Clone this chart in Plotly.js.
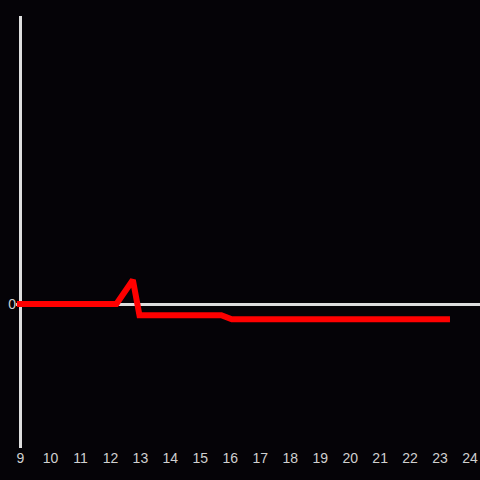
<!DOCTYPE html>
<html>
<head>
<meta charset="utf-8">
<script src="https://cdn.plot.ly/plotly-3.0.1.min.js"></script>
<style>html,body{margin:0;padding:0;background:#050307;}</style>
</head>
<body>
<div id="chart" style="width:480px;height:480px;"></div>
<script>
var hours = [8.88, 12.2, 12.75, 12.97, 15.7, 16.05, 23.33];
var values = [0, 0, 0.167, -0.078, -0.078, -0.106, -0.106];
var xTicks = [9,10,11,12,13,14,15,16,17,18,19,20,21,22,23,24];
var yTicks = [0];

var trace = {
  x: hours,
  y: values,
  type: 'scatter',
  mode: 'lines',
  line: {color: '#ff0000', width: 6},
  hoverinfo: 'skip'
};

var layout = {
  width: 480,
  height: 480,
  margin: {l: 16, r: 0, t: 16, b: 32, pad: 0},
  paper_bgcolor: '#050307',
  plot_bgcolor: '#050307',
  showlegend: false,
  font: {family: 'Liberation Sans, Arial, sans-serif', size: 14, color: '#d0d0d0'},
  xaxis: {
    range: [8.85, 24.332],
    tickvals: xTicks,
    ticktext: xTicks.map(String),
    showgrid: false,
    zeroline: false,
    showline: false,
    ticks: '',
    tickfont: {size: 14, color: '#d0d0d0'}
  },
  yaxis: {
    range: [-1, 2],
    tickvals: yTicks,
    ticktext: yTicks.map(String),
    showgrid: false,
    zeroline: true,
    zerolinecolor: '#dedede',
    zerolinewidth: 3,
    showline: false,
    ticks: '',
    ticklabelstandoff: -1,
    tickfont: {size: 14, color: '#d0d0d0'}
  },
  shapes: [{
    type: 'line',
    xref: 'x', yref: 'paper',
    x0: 9, x1: 9, y0: 0, y1: 1,
    line: {color: '#dedede', width: 3},
    layer: 'below'
  }]
};

Plotly.newPlot('chart', [trace], layout, {displayModeBar: false, staticPlot: true});
</script>
</body>
</html>
